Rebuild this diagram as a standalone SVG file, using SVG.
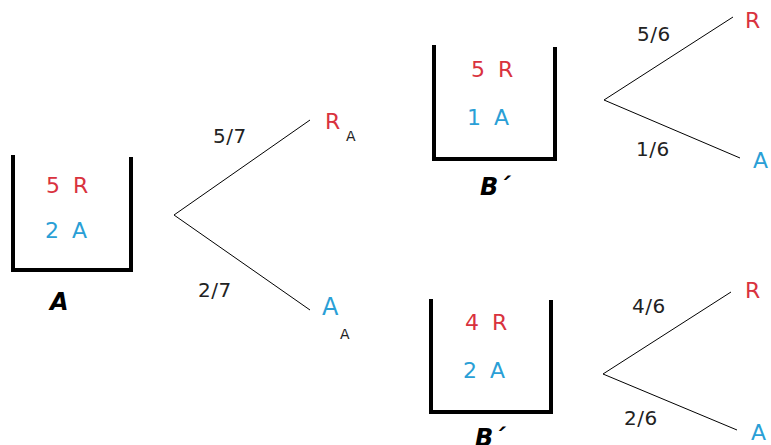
<svg xmlns="http://www.w3.org/2000/svg" width="771" height="445" viewBox="0 0 771 445">
<style>
.box{fill:none;stroke:#000;stroke-width:4}
.ln{fill:none;stroke:#000;stroke-width:1}
.t{font-family:"DejaVu Sans",Verdana,sans-serif;font-size:22px;word-spacing:6px}
.r{fill:#d9323e}
.b{fill:#2a9fd6}
.f{font-family:"DejaVu Sans",Verdana,sans-serif;font-size:20px;fill:#222;letter-spacing:0.5px}
.lab{font-family:"DejaVu Sans",Verdana,sans-serif;font-size:24px;font-weight:bold;font-style:italic;fill:#000}
.sub{font-family:"DejaVu Sans",Verdana,sans-serif;font-size:14px;fill:#222}
</style>
<rect width="771" height="445" fill="#fff"/>
<g id="urnA">
<path class="box" d="M13,155 V270 H131 V157"/>
<text class="t r" x="46" y="193">5 R</text>
<text class="t b" x="45" y="238">2 A</text>
<text class="lab" x="50" y="310">A</text>
</g>
<g id="urnB1">
<path class="box" d="M434,45 V159 H555 V47"/>
<text class="t r" x="471" y="77">5 R</text>
<text class="t b" x="467" y="125">1 A</text>
<text class="lab" x="480" y="195">B´</text>
</g>
<g id="urnB2">
<path class="box" d="M431,299 V412 H551 V300"/>
<text class="t r" x="465" y="330">4 R</text>
<text class="t b" x="463" y="378">2 A</text>
<text class="lab" x="475" y="446">B´</text>
</g>
<g id="connectors">
<path class="ln" d="M310,120 L174,215 L310,310"/>
<path class="ln" d="M733,17 L604,100 L740,158"/>
<path class="ln" d="M731,292 L603,374 L737,430"/>
</g>
<g id="labels">
<text class="f" x="213" y="143">5/7</text>
<text class="f" x="198" y="297">2/7</text>
<text class="f" x="637" y="41">5/6</text>
<text class="f" x="636" y="156">1/6</text>
<text class="f" x="632" y="313">4/6</text>
<text class="f" x="624" y="425">2/6</text>
</g>
<g id="outcomes">
<text class="t r" x="325" y="129">R</text><text class="sub" x="346" y="141">A</text>
<text class="t b" style="font-size:24px" x="322" y="315">A</text><text class="sub" x="340" y="339">A</text>
<text class="t r" x="745" y="28">R</text>
<text class="t b" x="753" y="168">A</text>
<text class="t r" x="745" y="298">R</text>
<text class="t b" x="751" y="440">A</text>
</g>
</svg>
